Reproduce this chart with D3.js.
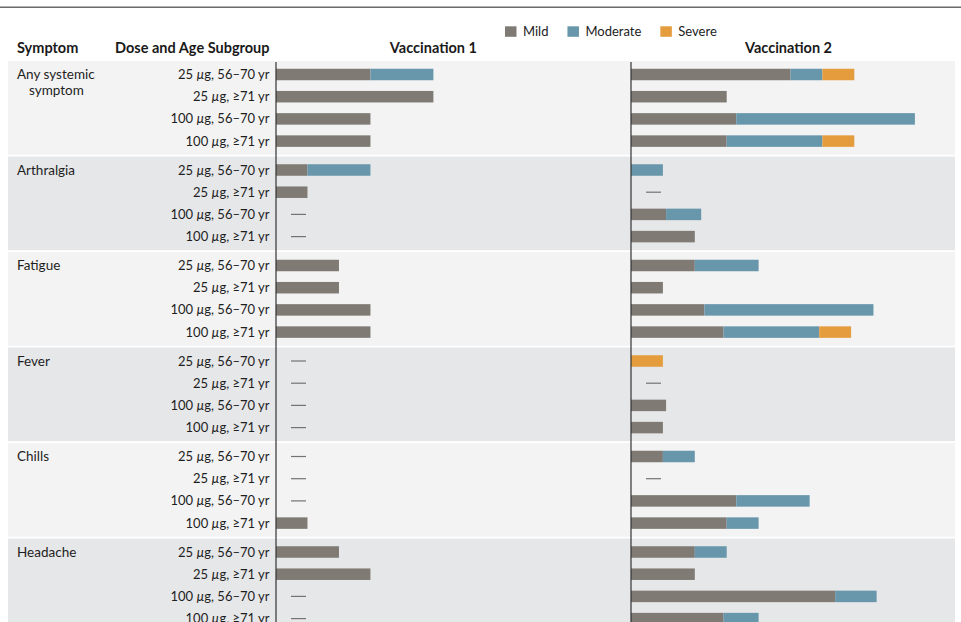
<!DOCTYPE html>
<html>
<head>
<meta charset="utf-8">
<script src="https://cdn.jsdelivr.net/npm/d3@7"></script>
<style>
  body { margin: 0; background: #fff; }
  svg { display: block; font-family: Lato, "Open Sans", sans-serif; }
</style>
</head>
<body>
<svg id="chart" width="961" height="622"></svg>
<script>
// Symptom groups and dose/age subgroups (rows within each group)
const symptoms = ["Any systemic\nsymptom", "Arthralgia", "Fatigue", "Fever", "Chills", "Headache"];
const subgroups = ["25 µg, 56–70 yr", "25 µg, ≥71 yr", "100 µg, 56–70 yr", "100 µg, ≥71 yr"];
const severities = ["Mild", "Moderate", "Severe"];
const panels = ["Vaccination 1", "Vaccination 2"];

// Percentage of participants, one entry per row (symptom × subgroup)
const dose1Mild     = [30, 50, 30, 30,  10, 10, 0, 0,  20, 20, 30, 30,  0, 0, 0, 0,  0, 0, 0, 10,  20, 30, 0, 0];
const dose1Moderate = [20,  0,  0,  0,  20,  0, 0, 0,   0,  0,  0,  0,  0, 0, 0, 0,  0, 0, 0,  0,   0,  0, 0, 0];
const dose1Severe   = [ 0,  0,  0,  0,   0,  0, 0, 0,   0,  0,  0,  0,  0, 0, 0, 0,  0, 0, 0,  0,   0,  0, 0, 0];

const dose2Mild     = [50, 30, 33, 30,   0, 0, 11, 20,  20, 10, 23, 29,   0, 0, 11, 10,  10, 0, 33, 30,  20, 20, 64, 29];
const dose2Moderate = [10,  0, 56, 30,  10, 0, 11,  0,  20,  0, 53, 30,   0, 0,  0,  0,  10, 0, 23, 10,  10,  0, 13, 11];
const dose2Severe   = [10,  0,  0, 10,   0, 0,  0,  0,   0,  0,  0, 10,  10, 0,  0,  0,   0, 0,  0,  0,   0,  0,  0,  0];

const colors = { Mild: "#7f7b74", Moderate: "#6896ab", Severe: "#e59c3c" };

const svg = d3.select("#chart");

// Row records for each panel
function buildRows(mild, moderate, severe) {
  const rows = [];
  symptoms.forEach((s, i) => subgroups.forEach((g, j) => {
    const k = i * subgroups.length + j;
    rows.push({ symptom: s, subgroup: g, Mild: mild[k], Moderate: moderate[k], Severe: severe[k] });
  }));
  return rows;
}
const panelRows = [
  buildRows(dose1Mild, dose1Moderate, dose1Severe),
  buildRows(dose2Mild, dose2Moderate, dose2Severe)
];

// Scales
const xScales = [
  d3.scaleLinear().domain([0, 100]).range([276, 276 + 314.8]),
  d3.scaleLinear().domain([0, 100]).range([631, 631 + 319])
];
const yGroup = d3.scaleBand().domain(symptoms).range([61, 61 + 95.5 * symptoms.length]);
const yRow = d3.scaleBand().domain(subgroups).range([2.4, 2.4 + 22.2 * subgroups.length]);
const rowCenter = d => yGroup(d.symptom) + yRow(d.subgroup) + yRow.bandwidth() / 2;
const barH = 11.5;

// Top rule
svg.append("line")
  .attr("x1", 0).attr("x2", 961).attr("y1", 7.3).attr("y2", 7.3)
  .attr("stroke", "#6b6b6b").attr("stroke-width", 1.4);

// Alternating group bands
svg.append("g").selectAll("rect")
  .data(symptoms)
  .join("rect")
  .attr("x", 8).attr("width", 947)
  .attr("y", d => yGroup(d))
  .attr("height", yGroup.bandwidth() - 1.8)
  .attr("fill", (d, i) => i % 2 === 0 ? "#f3f3f3" : "#e6e7e9");

// Header
const header = svg.append("g").attr("fill", "#1a1a1a").attr("font-weight", 700).attr("font-size", 14.5);
header.append("text").attr("x", 17).attr("y", 53.3).text("Symptom");
header.append("text").attr("x", 269.5).attr("y", 53.3).attr("text-anchor", "end").text("Dose and Age Subgroup");
panels.forEach((p, i) => {
  header.append("text")
    .attr("x", xScales[i](50) - (i === 1 ? 2 : 0)).attr("y", 53.3)
    .attr("text-anchor", "middle").text(p);
});

// Legend
const legend = svg.append("g").attr("font-size", 13).attr("fill", "#222");
let lx = 505;
severities.forEach(s => {
  legend.append("rect").attr("x", lx).attr("y", 26.3).attr("width", 11.5).attr("height", 10.5).attr("fill", colors[s]);
  const t = legend.append("text").attr("x", lx + 18).attr("y", 35.5).text(s);
  lx = lx + 18 + t.node().getComputedTextLength() + 19;
});

// Symptom labels
const symLabels = svg.append("g").attr("font-size", 13.5).attr("fill", "#1e1e1e");
symptoms.forEach(s => {
  const lines = s.split("\n");
  const y0 = yGroup(s) + yRow(subgroups[0]) + yRow.bandwidth() / 2 + 4.5;
  lines.forEach((ln, i) => {
    symLabels.append("text").attr("x", i === 0 ? 17 : 29).attr("y", y0 + i * 16).text(ln);
  });
});

// Subgroup labels (italic mu)
const subLabels = svg.append("g").attr("font-size", 13).attr("fill", "#1e1e1e").attr("text-anchor", "end");
panelRows[0].forEach(d => {
  const parts = d.subgroup.split("µ");
  const t = subLabels.append("text").attr("x", 269.5).attr("y", rowCenter(d) + 4.5);
  t.append("tspan").text(parts[0]);
  t.append("tspan").attr("font-style", "italic").text("µ");
  t.append("tspan").text(parts[1]);
});

// Bars
const stack = d3.stack().keys(severities);
panelRows.forEach((rows, pi) => {
  const x = xScales[pi];
  const g = svg.append("g");
  stack(rows).forEach(series => {
    g.append("g").attr("fill", colors[series.key])
      .selectAll("rect")
      .data(series.filter(d => d[1] > d[0]))
      .join("rect")
      .attr("x", d => x(d[0]))
      .attr("width", d => x(d[1]) - x(d[0]))
      .attr("y", d => rowCenter(d.data) - barH / 2)
      .attr("height", barH);
  });
  // Dash for subgroups with no reports
  g.append("g").attr("stroke", "#737373").attr("stroke-width", 1.2)
    .selectAll("line")
    .data(rows.filter(d => d.Mild + d.Moderate + d.Severe === 0))
    .join("line")
    .attr("x1", x(0) + 15).attr("x2", x(0) + 30)
    .attr("y1", d => rowCenter(d)).attr("y2", d => rowCenter(d));
  // Baseline
  svg.append("line")
    .attr("x1", x(0)).attr("x2", x(0))
    .attr("y1", 62).attr("y2", 622)
    .attr("stroke", "#333").attr("stroke-width", 1.2);
});
</script>
</body>
</html>
